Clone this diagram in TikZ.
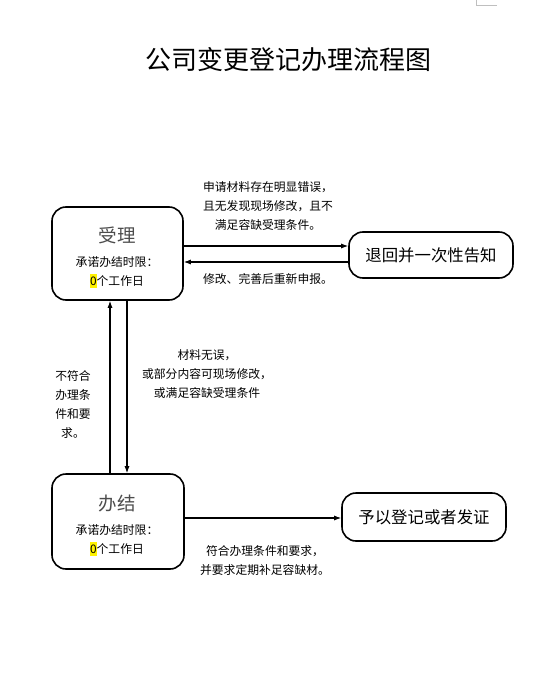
\documentclass[tikz,border=0pt]{standalone}
\usepackage{fontspec}
\setmainfont{Noto Sans CJK SC}
\usetikzlibrary{arrows.meta}
\begin{document}
\begin{tikzpicture}[x=1pt,y=-1pt,
  box/.style={draw=black,line width=1.6pt,rounded corners=14pt,inner sep=0pt},
  arr/.style={line width=1.1pt,-{Latex[length=7pt,width=5pt]}},
  small/.style={font=\fontsize{11.8}{19}\selectfont,align=center,inner sep=0pt},
  big/.style={font=\fontsize{18.5}{20}\selectfont,text=black!70,inner sep=0pt},
  hl/.style={}]
\useasboundingbox (0,0) rectangle (547,679);
\fill[white] (0,0) rectangle (547,679);
% corner mark
\draw[black!25,line width=0.6pt] (476,0) coordinate (cm1) -- (476,5) coordinate (cm2) -- (497,5) coordinate (cm3);
% title
\node[font=\fontsize{26}{28}\selectfont,inner sep=0pt] (title) at (288,60) {公司变更登记办理流程图};
% boxes
\node[box,minimum width=131pt,minimum height=93pt] (sl) at (117.5,253.5) {};
\node[big] (slt) at (117,235) {受理};
\node[small] (sl1) at (117,262) {承诺办结时限：};
\node[small] (sl2) at (117,281) {\colorbox{yellow}{\hspace{-3pt}0\hspace{-3pt}}个工作日};
\node[box,minimum width=164pt,minimum height=46pt,font=\fontsize{16.4}{18}\selectfont] (th) at (431,255) {退回并一次性告知};
\node[box,minimum width=132pt,minimum height=95pt] (bj) at (118,521.5) {};
\node[big] (bjt) at (117,503) {办结};
\node[small] (bj1) at (117,530) {承诺办结时限：};
\node[small] (bj2) at (117,549) {\colorbox{yellow}{\hspace{-3pt}0\hspace{-3pt}}个工作日};
\node[box,minimum width=164pt,minimum height=48pt,font=\fontsize{16.4}{18}\selectfont] (yy) at (424,517) {予以登记或者发证};
% arrows
\draw[arr] (sl.east |- 0,246) -- (th.west |- 0,246);
\draw[arr] (th.west |- 0,262) -- (sl.east |- 0,262);
\draw[arr] (bj.north -| 110,0) -- (sl.south -| 110,0);
\draw[arr] (sl.south -| 127,0) -- (bj.north -| 127,0);
\draw[arr] (bj.east |- 0,518) -- (yy.west |- 0,518);
% labels
\node[small] (l1) at (268,206) {申请材料存在明显错误，\\且无发现现场修改，且不\\满足容缺受理条件。};
\node[small] (l2) at (268,279) {修改、完善后重新申报。};
\node[small] (l3) at (73,405) {不符合\\办理条\\件和要\\求。};
\node[small] (l4) at (207,374) {材料无误，\\或部分内容可现场修改，\\或满足容缺受理条件};
\node[small] (l5) at (265,560.5) {符合办理条件和要求，\\并要求定期补足容缺材。};
\end{tikzpicture}
\end{document}
